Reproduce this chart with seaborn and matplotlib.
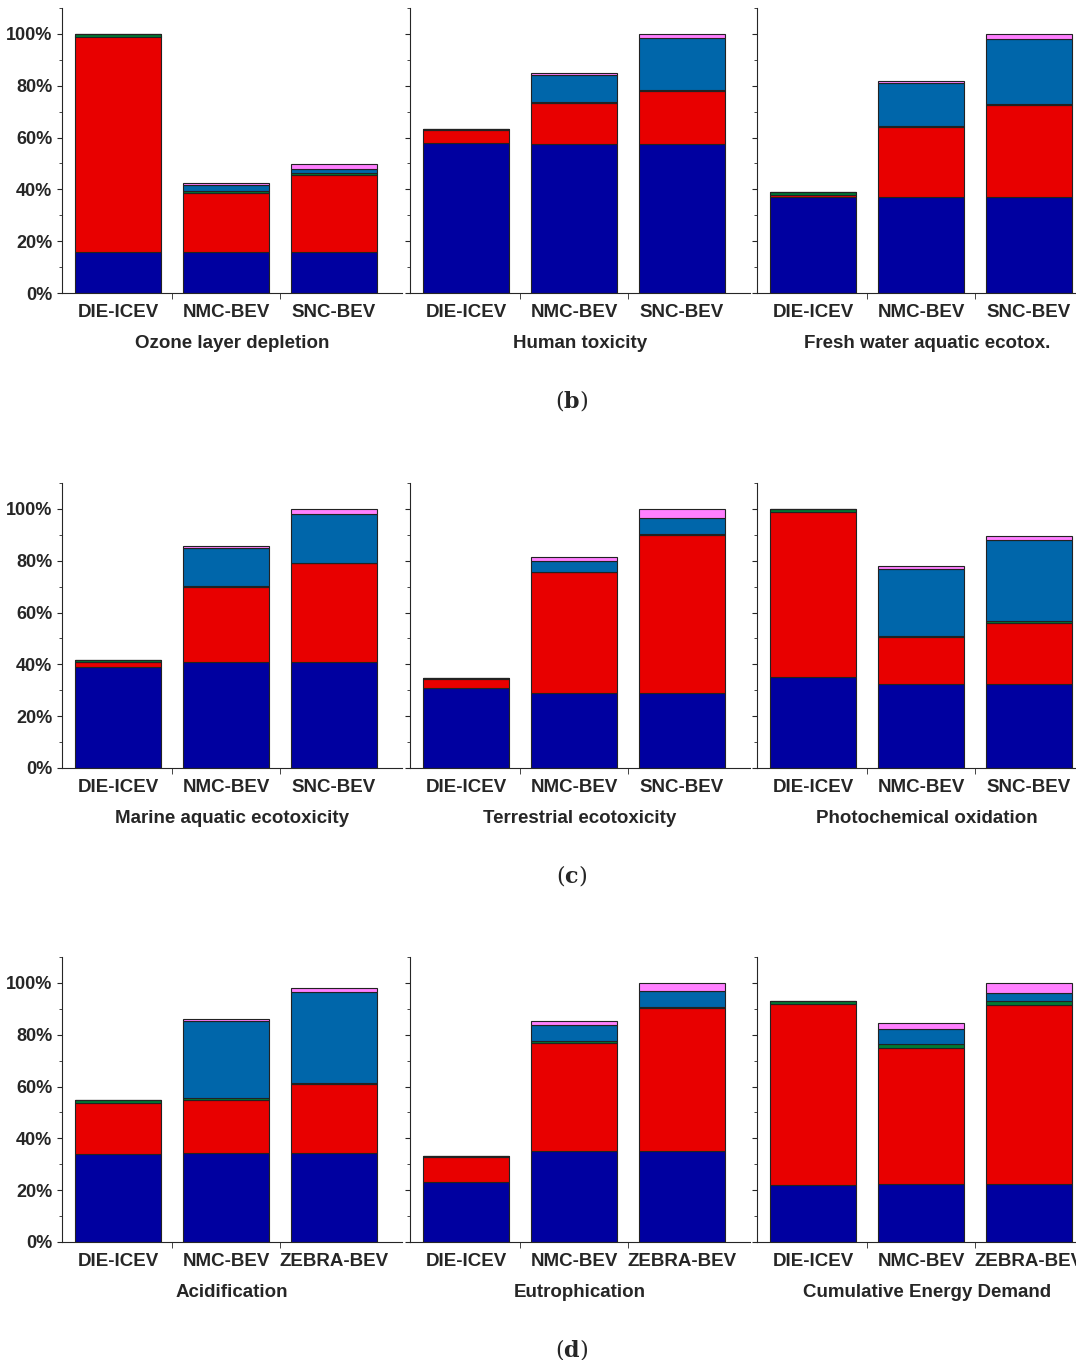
import numpy as np
import pandas as pd
import matplotlib
matplotlib.use("Agg")
import matplotlib.pyplot as plt
import seaborn as sns
from matplotlib.ticker import MultipleLocator, FuncFormatter

sns.set_style("ticks")
plt.rcParams['font.family'] = ['Liberation Sans', 'DejaVu Sans']
plt.rcParams['mathtext.fontset'] = 'dejavuserif'

colors = ["#0000A0", "#E80000", "#007A33", "#0066AA", "#FF80FF"]

cats_a = ["DIE-ICEV", "NMC-BEV", "SNC-BEV"]
cats_b = ["DIE-ICEV", "NMC-BEV", "ZEBRA-BEV"]

titles = [["Ozone layer depletion", "Human toxicity", "Fresh water aquatic ecotox."],
          ["Marine aquatic ecotoxicity", "Terrestrial ecotoxicity", "Photochemical oxidation"],
          ["Acidification", "Eutrophication", "Cumulative Energy Demand"]]
captions = ["b", "c", "d"]

# segments per bar: navy, red, green, steel blue, pink (% share)
ozone = [[16, 83, 1, 0, 0], [16, 22.5, 0.8, 2.5, 0.5], [16, 29.5, 1, 1.5, 1.8]]
human = [[58, 5, 0.3, 0, 0], [57.5, 16, 0.3, 10.5, 0.5], [57.5, 20.5, 0.5, 20, 1.5]]
fresh = [[37, 1, 0.8, 0, 0], [37, 27, 0.3, 16.7, 0.8], [37, 35.5, 0.3, 25.2, 2]]
marine = [[39, 2, 0.6, 0, 0], [41, 29, 0.3, 14.7, 0.8], [41, 38, 0.3, 18.7, 2]]
terr = [[31, 3.5, 0.2, 0, 0], [29, 46.5, 0.3, 4, 1.7], [29, 61, 0.3, 6, 3.7]]
photo = [[35, 64, 1, 0, 0], [32.5, 18, 0.3, 26.2, 0.8], [32.5, 23.5, 0.8, 31.2, 1.5]]
acid = [[34, 19.5, 1.3, 0, 0], [34.5, 20.5, 0.4, 30, 0.6], [34.5, 26.5, 0.4, 35, 1.8]]
eutro = [[23, 10, 0.2, 0, 0], [35, 42, 0.4, 6.4, 1.4], [35, 55.5, 0.3, 6, 3.2]]
ced = [[22, 70, 1.2, 0, 0], [22.5, 52.5, 1.3, 6, 2.4], [22.5, 69, 1.5, 3, 4]]

data = [[ozone, human, fresh], [marine, terr, photo], [acid, eutro, ced]]

W, H = 1076, 1360
fig = plt.figure(figsize=(W / 100, H / 100), dpi=100)
row_top = [8, 483, 957]
row_bot = [293, 768, 1242]
col_left = [62, 410, 757]
col_w = 340

for r in range(3):
    cats = cats_a if r < 2 else cats_b
    for c in range(3):
        ax = fig.add_axes([col_left[c] / W, 1 - row_bot[r] / H, col_w / W, (row_bot[r] - row_top[r]) / H])
        vals = np.array(data[r][c])
        bottom = np.zeros(3)
        for k in range(5):
            df = pd.DataFrame({"cat": cats, "v": vals[:, k]})
            sns.barplot(data=df, x="cat", y="v", color=colors[k], ax=ax, width=0.8,
                        bottom=bottom, edgecolor="#222222", linewidth=0.8, saturation=1)
            bottom = bottom + vals[:, k]
        ax.set_xlim(-0.52, 2.63)
        ax.set_ylim(0, 110)
        ax.yaxis.set_major_locator(MultipleLocator(20))
        ax.yaxis.set_minor_locator(MultipleLocator(10))
        ax.yaxis.set_major_formatter(FuncFormatter(lambda v, p: f"{int(v)}%" if v <= 100 else ""))
        ax.set_xticks([0.5, 1.5], minor=True)
        ax.tick_params(axis="x", which="major", length=0, labelsize=13.5, pad=8)
        ax.tick_params(axis="x", which="minor", length=4)
        ax.tick_params(axis="y", labelsize=13)
        for lab in ax.get_xticklabels() + ax.get_yticklabels():
            lab.set_fontweight("bold")
        if c > 0:
            ax.set_yticklabels([])
        ax.set_ylabel("")
        ax.set_xlabel(titles[r][c], fontsize=13.5, fontweight="bold", labelpad=10)
        sns.despine(ax=ax)
    fig.text(572 / W, 1 - (row_bot[r] + 107) / H, r"($\mathbf{" + captions[r] + r"}$)",
             ha="center", va="center", fontsize=16, family="DejaVu Serif")

fig.savefig("out.png", dpi=100)
